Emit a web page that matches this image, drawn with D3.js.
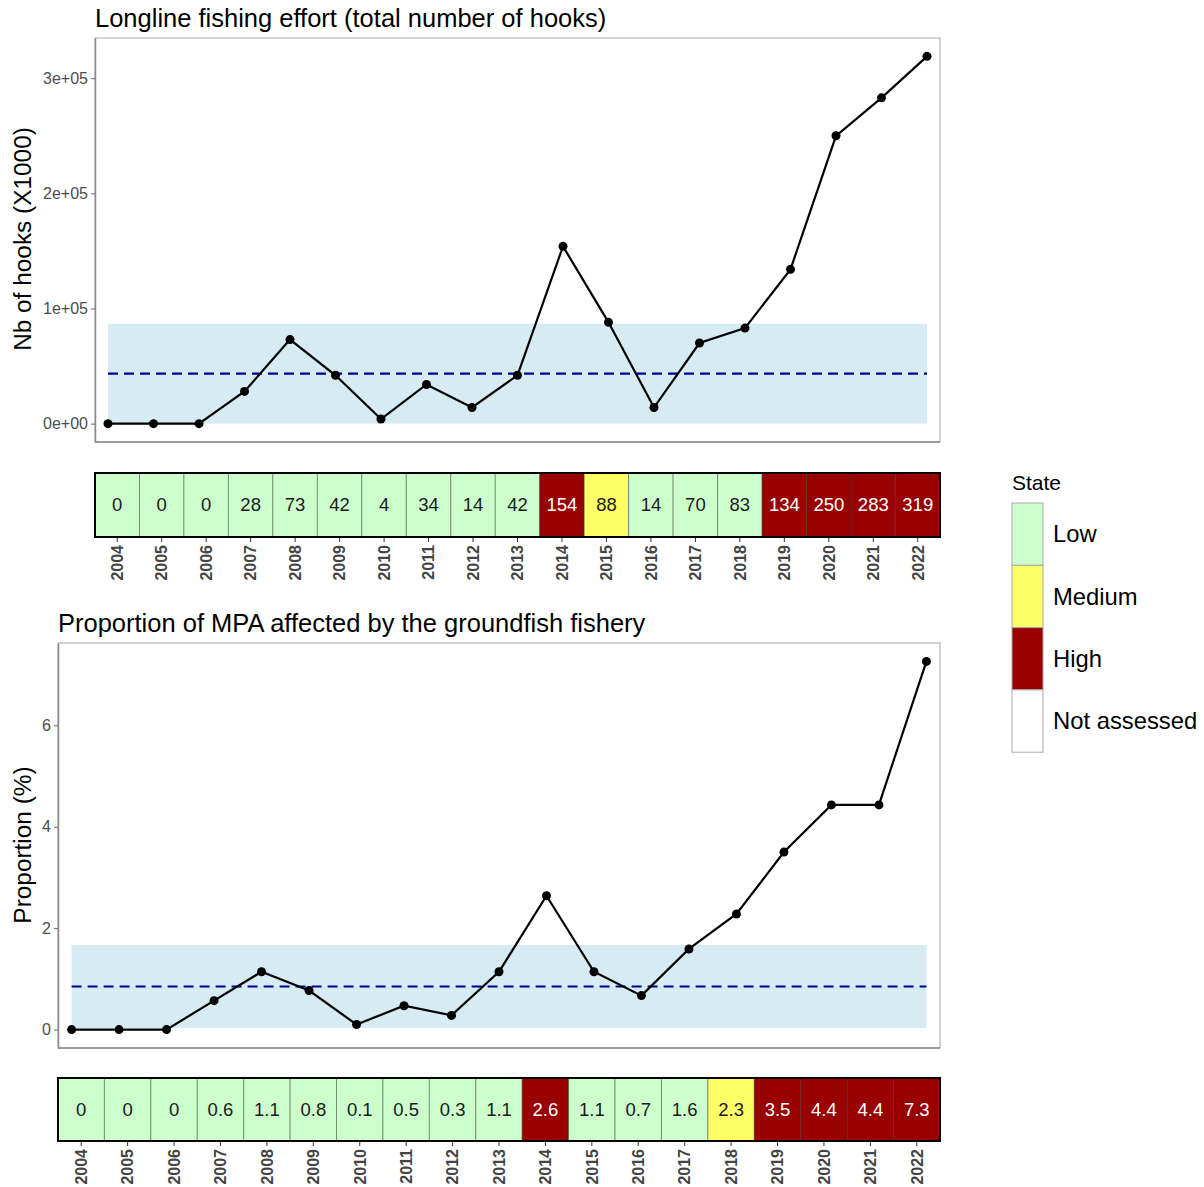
<!DOCTYPE html>
<html>
<head>
<meta charset="utf-8">
<script src="https://cdn.jsdelivr.net/npm/d3@7"></script>
<style>
  body { margin: 0; background: #fff; }
  text { font-family: "Liberation Sans", Arial, sans-serif; }
</style>
</head>
<body>
<div id="chart"></div>
<script>
// data
var years = [2004, 2005, 2006, 2007, 2008, 2009, 2010, 2011, 2012, 2013,
             2014, 2015, 2016, 2017, 2018, 2019, 2020, 2021, 2022];

// hooks, in thousands
var hooks = [0, 0, 0, 28, 73, 42, 4, 34, 14, 42, 154, 88, 14, 70, 83, 134, 250, 283, 319];
var hookState = ["Low", "Low", "Low", "Low", "Low", "Low", "Low", "Low", "Low", "Low",
                 "High", "Medium", "Low", "Low", "Low", "High", "High", "High", "High"];
var hookRef = { mean: 43.4, lower: 0, upper: 86.7 };

// proportion of MPA (%)
var proportion = [0, 0, 0, 0.57, 1.14, 0.77, 0.1, 0.47, 0.28, 1.14, 2.64, 1.14, 0.67, 1.59, 2.28, 3.5, 4.43, 4.43, 7.26];
var propState = ["Low", "Low", "Low", "Low", "Low", "Low", "Low", "Low", "Low", "Low",
                 "High", "Low", "Low", "Low", "Medium", "High", "High", "High", "High"];
var propRef = { mean: 0.85, lower: 0.03, upper: 1.67 };

var states = ["Low", "Medium", "High", "Not assessed"];
var stateColor = d3.scaleOrdinal()
    .domain(states)
    .range(["#ccffcc", "#ffff66", "#990000", "#ffffff"]);

var W = 1204, H = 1187;

var svg = d3.select("#chart")
    .append("svg")
    .attr("width", W)
    .attr("height", H);

function sciFormat(v) {
    if (v == 0) return "0e+00";
    var e = Math.floor(Math.log10(Math.abs(v)));
    var m = Math.round(v / Math.pow(10, e));
    return m + "e+" + (e < 10 ? "0" + e : e);
}

function drawPanel(cfg) {
    var vals = cfg.values.map(function (d) { return d * cfg.mult; });
    var g = svg.append("g");
    var x = d3.scaleLinear()
        .domain([2004 - 0.286, 2022 + 0.286])
        .range([cfg.left, cfg.right]);
    var ymax = d3.max(vals);
    var y = d3.scaleLinear()
        .domain([-ymax * 0.05, ymax * 1.05])
        .range([cfg.bottom, cfg.top]);

    // title
    g.append("text")
        .attr("x", cfg.left)
        .attr("y", cfg.top - 11)
        .style("font-size", "25.5px")
        .attr("fill", "#000")
        .text(cfg.title);

    // panel border
    g.append("rect")
        .attr("x", cfg.left)
        .attr("y", cfg.top)
        .attr("width", cfg.right - cfg.left)
        .attr("height", cfg.bottom - cfg.top)
        .attr("fill", "none")
        .attr("stroke", "#b5b5b5")
        .attr("stroke-width", 1.2);

    // ribbon
    g.append("rect")
        .attr("x", x(2004))
        .attr("width", x(2022) - x(2004))
        .attr("y", y(cfg.ref.upper * cfg.mult))
        .attr("height", y(cfg.ref.lower * cfg.mult) - y(cfg.ref.upper * cfg.mult))
        .attr("fill", "#add8e6")
        .attr("fill-opacity", 0.5);

    g.append("line")
        .attr("x1", x(2004))
        .attr("x2", x(2022))
        .attr("y1", y(cfg.ref.mean * cfg.mult))
        .attr("y2", y(cfg.ref.mean * cfg.mult))
        .attr("stroke", "#00008b")
        .attr("stroke-width", 2.2)
        .attr("stroke-dasharray", "10,6");

    // y axis
    var yAxis = d3.axisLeft(y)
        .tickValues(cfg.ticks)
        .tickFormat(cfg.format)
        .tickSize(4)
        .tickSizeOuter(0)
        .tickPadding(3);
    var ya = g.append("g")
        .attr("transform", "translate(" + cfg.left + ",0)")
        .call(yAxis);
    ya.select(".domain").attr("stroke", "#8a8a8a").attr("stroke-width", 1.5);
    ya.selectAll(".tick line").attr("stroke", "#666");
    ya.selectAll(".tick text")
        .attr("fill", "#4d4d4d")
        .style("font-size", "16px");

    // bottom axis line
    g.append("line")
        .attr("x1", cfg.left)
        .attr("x2", cfg.right)
        .attr("y1", cfg.bottom)
        .attr("y2", cfg.bottom)
        .attr("stroke", "#8a8a8a")
        .attr("stroke-width", 1.5);

    g.append("text")
        .attr("transform", "translate(31," + cfg.ylabelY + ") rotate(-90)")
        .attr("text-anchor", "middle")
        .style("font-size", "24.4px")
        .text(cfg.ylabel);

    // line + points
    var line = d3.line()
        .x(function (d, i) { return x(years[i]); })
        .y(function (d) { return y(d); });
    g.append("path")
        .datum(vals)
        .attr("d", line)
        .attr("fill", "none")
        .attr("stroke", "#000")
        .attr("stroke-width", 2.2);
    g.selectAll("circle")
        .data(vals)
        .enter()
        .append("circle")
        .attr("cx", function (d, i) { return x(years[i]); })
        .attr("cy", function (d) { return y(d); })
        .attr("r", 4.5)
        .attr("fill", "#000");

    // state strip
    var band = d3.scaleBand()
        .domain(years)
        .range([cfg.left, cfg.right]);
    var s = svg.append("g");
    s.selectAll("rect.cell")
        .data(years)
        .enter()
        .append("rect")
        .attr("class", "cell")
        .attr("x", function (d) { return band(d); })
        .attr("y", cfg.stripTop)
        .attr("width", band.bandwidth())
        .attr("height", cfg.stripBottom - cfg.stripTop)
        .attr("fill", function (d, i) { return stateColor(cfg.states[i]); })
        .attr("stroke", "#333")
        .attr("stroke-opacity", 0.45)
        .attr("stroke-width", 1);
    s.append("rect")
        .attr("x", cfg.left)
        .attr("y", cfg.stripTop)
        .attr("width", cfg.right - cfg.left)
        .attr("height", cfg.stripBottom - cfg.stripTop)
        .attr("fill", "none")
        .attr("stroke", "#000")
        .attr("stroke-width", 2);
    s.selectAll("text.val")
        .data(years)
        .enter()
        .append("text")
        .attr("class", "val")
        .attr("x", function (d) { return band(d) + band.bandwidth() / 2; })
        .attr("y", (cfg.stripTop + cfg.stripBottom) / 2)
        .attr("dy", "0.35em")
        .attr("text-anchor", "middle")
        .style("font-size", "18.5px")
        .attr("fill", function (d, i) { return cfg.states[i] == "High" ? "#fff" : "#1a1a1a"; })
        .text(function (d, i) { return cfg.label(cfg.values[i]); });

    var xAxis = d3.axisBottom(band)
        .tickSize(4)
        .tickPadding(3);
    var xa = s.append("g")
        .attr("transform", "translate(0," + (cfg.stripBottom + 1) + ")")
        .call(xAxis);
    xa.select(".domain").remove();
    xa.selectAll(".tick line").attr("stroke", "#333");
    xa.selectAll(".tick text")
        .attr("transform", "rotate(-90)")
        .attr("text-anchor", "end")
        .attr("x", -7)
        .attr("y", 0)
        .attr("dy", "0.36em")
        .attr("fill", "#444")
        .style("font-size", "16px")
        .style("font-weight", "bold");
}

drawPanel({
    title: "Longline fishing effort (total number of hooks)",
    ylabel: "Nb of hooks (X1000)",
    ylabelY: 239,
    values: hooks,
    mult: 1000,
    states: hookState,
    ref: hookRef,
    ticks: [0, 100000, 200000, 300000],
    format: sciFormat,
    label: function (v) { return Math.round(v); },
    left: 95, right: 940, top: 38, bottom: 442,
    stripTop: 473, stripBottom: 537
});

drawPanel({
    title: "Proportion of MPA affected by the groundfish fishery",
    ylabel: "Proportion (%)",
    ylabelY: 845,
    values: proportion,
    mult: 1,
    states: propState,
    ref: propRef,
    ticks: [0, 2, 4, 6],
    format: d3.format("d"),
    label: function (v) { return Math.round(v * 10) / 10; },
    left: 58, right: 940, top: 643, bottom: 1048,
    stripTop: 1078, stripBottom: 1141
});

// legend
var lg = svg.append("g");
lg.append("text")
    .attr("x", 1012)
    .attr("y", 490)
    .style("font-size", "21px")
    .text("State");
var keyH = 62.3;
lg.selectAll("rect")
    .data(states)
    .enter()
    .append("rect")
    .attr("x", 1012)
    .attr("y", function (d, i) { return 503 + i * keyH; })
    .attr("width", 31)
    .attr("height", keyH)
    .attr("fill", function (d) { return stateColor(d); })
    .attr("stroke", "#aaa")
    .attr("stroke-width", 1);
lg.selectAll("text.lab")
    .data(states)
    .enter()
    .append("text")
    .attr("class", "lab")
    .attr("x", 1053)
    .attr("y", function (d, i) { return 503 + i * keyH + keyH / 2; })
    .attr("dy", "0.35em")
    .style("font-size", "23.8px")
    .text(function (d) { return d; });
</script>
</body>
</html>
